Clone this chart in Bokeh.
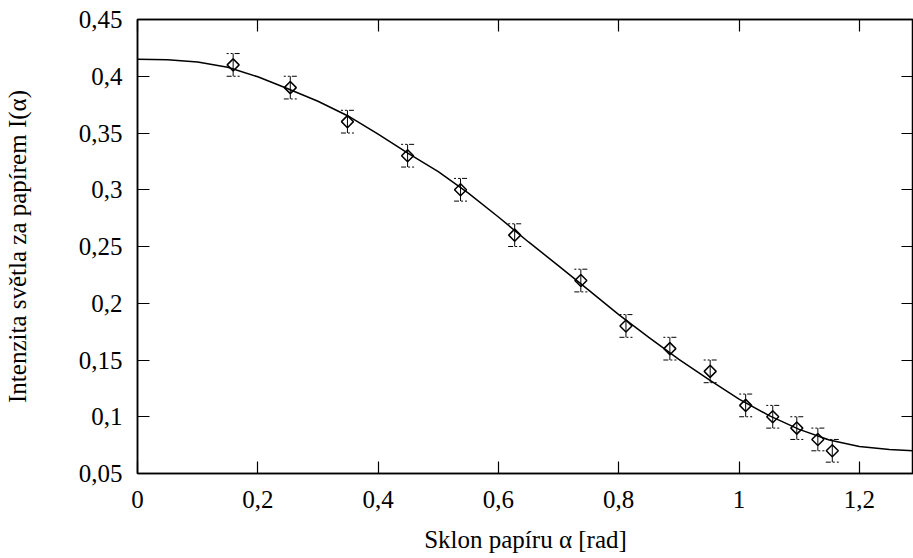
import math
from bokeh.plotting import figure
from bokeh.models import (Range1d, LinearAxis, Whisker, TeeHead, ColumnDataSource,
                          FixedTicker)
from bokeh.embed import file_html
from bokeh.resources import INLINE

# measured data
alpha = [0.159, 0.254, 0.349, 0.449, 0.537, 0.627, 0.737, 0.812, 0.885, 0.952,
         1.011, 1.056, 1.096, 1.131, 1.155]
intensity = [0.41, 0.39, 0.36, 0.33, 0.30, 0.26, 0.22, 0.18, 0.16, 0.14,
             0.11, 0.10, 0.09, 0.08, 0.07]
err = [0.01] * len(alpha)

# fitted curve
fit_alpha = [0.0, 0.05, 0.10, 0.15, 0.20, 0.25, 0.30, 0.35, 0.40, 0.45, 0.50,
             0.55, 0.60, 0.65, 0.70, 0.75, 0.80, 0.85, 0.90, 0.95, 1.00, 1.05,
             1.10, 1.15, 1.20, 1.25, 1.30]
fit_intensity = [0.415, 0.4145, 0.4125, 0.408, 0.3995, 0.389, 0.378, 0.365,
                 0.349, 0.332, 0.316, 0.297, 0.276, 0.254, 0.233, 0.2115,
                 0.190, 0.170, 0.1505, 0.1327, 0.1155, 0.101, 0.0889, 0.0795,
                 0.0737, 0.0712, 0.0698]

x_ticks = [0.0, 0.2, 0.4, 0.6, 0.8, 1.0, 1.2]
x_tick_labels = ["0", "0,2", "0,4", "0,6", "0,8", "1", "1,2"]
y_ticks = [0.05, 0.1, 0.15, 0.2, 0.25, 0.3, 0.35, 0.4, 0.45]
y_tick_labels = ["0,05", "0,1", "0,15", "0,2", "0,25", "0,3", "0,35", "0,4", "0,45"]

FONT = "Liberation Serif"
FS = "25px"

p = figure(width=913, height=558, output_backend="svg", toolbar_location=None,
           x_range=Range1d(0, 1.29), y_range=Range1d(0.05, 0.45),
           min_border_left=136, min_border_right=0, min_border_top=19,
           min_border_bottom=85)
p.grid.visible = False
p.outline_line_color = "black"
p.outline_line_width = 1.5
p.background_fill_color = "white"
p.border_fill_color = "white"

def style_axis(ax):
    ax.major_tick_in = 12
    ax.major_tick_out = 0
    ax.minor_tick_line_color = None
    ax.axis_line_width = 1.5
    ax.major_tick_line_width = 1.2
    ax.axis_line_color = "black"
    ax.major_tick_line_color = "black"
    ax.major_label_text_font = FONT
    ax.major_label_text_color = "black"
    ax.major_label_text_font_size = FS

xa = p.xaxis[0]
xa.ticker = FixedTicker(ticks=x_ticks)
xa.major_label_overrides = dict(zip(x_ticks, x_tick_labels))
style_axis(xa)
xa.major_label_standoff = 17
xa.axis_label = "Sklon papíru α [rad]"
xa.axis_label_text_font = FONT
xa.axis_label_text_font_size = FS
xa.axis_label_text_font_style = "normal"
xa.axis_label_text_color = "black"
xa.axis_label_standoff = 15

ya = p.yaxis[0]
ya.ticker = FixedTicker(ticks=y_ticks)
ya.major_label_overrides = dict(zip(y_ticks, y_tick_labels))
style_axis(ya)
ya.major_label_standoff = 15
ya.axis_label = "Intenzita světla za papírem I(α)"
ya.axis_label_text_font = FONT
ya.axis_label_text_font_size = FS
ya.axis_label_text_font_style = "normal"
ya.axis_label_text_color = "black"
ya.axis_label_standoff = 45

# mirrored tick marks on top and right (no labels)
top = LinearAxis(ticker=FixedTicker(ticks=x_ticks),
                 major_label_overrides={t: "" for t in x_ticks})
style_axis(top)
top.major_label_standoff = 0
p.add_layout(top, "above")
right = LinearAxis(ticker=FixedTicker(ticks=y_ticks),
                   major_label_overrides={t: "" for t in y_ticks})
style_axis(right)
right.major_label_standoff = 0
p.add_layout(right, "right")

# fit curve
p.line(fit_alpha, fit_intensity, line_color="black", line_width=1.5)

# error bars
src = ColumnDataSource(dict(
    x=alpha, y=intensity,
    upper=[v + e for v, e in zip(intensity, err)],
    lower=[v - e for v, e in zip(intensity, err)],
))
head_u = TeeHead(size=13, line_color="black", line_width=1, line_dash="5 2 2 2")
head_l = TeeHead(size=13, line_color="black", line_width=1, line_dash="5 2 2 2")
p.add_layout(Whisker(source=src, base="x", upper="upper", lower="lower",
                     dimension="height", line_color="black", line_width=1,
                     upper_head=head_u, lower_head=head_l))

# data points
p.scatter("x", "y", source=src, marker="square", angle=math.pi / 4, size=8.5,
          fill_color="white", fill_alpha=0.0, line_color="black", line_width=1.5)

open("out.html", "w").write(file_html(p, INLINE))
